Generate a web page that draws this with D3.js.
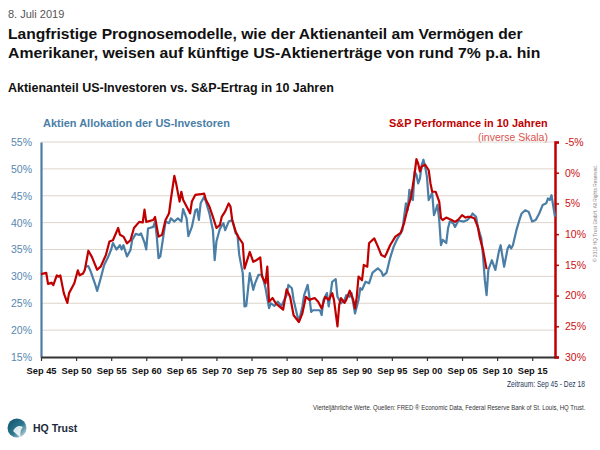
<!DOCTYPE html>
<html><head><meta charset="utf-8">
<script src="https://cdn.jsdelivr.net/npm/d3@7"></script>
<style>
html,body{margin:0;padding:0;background:#fff;}
svg{display:block;font-family:"Liberation Sans",Arial,Helvetica,sans-serif;}
</style></head>
<body>
<svg id="chart" width="600" height="450"></svg>
<script>
// ---------------- DATA ----------------
const xTickYears  = [1945.75,1950.75,1955.75,1960.75,1965.75,1970.75,1975.75,1980.75,1985.75,1990.75,1995.75,2000.75,2005.75,2010.75,2015.75];
const xTickLabels = ["Sep 45","Sep 50","Sep 55","Sep 60","Sep 65","Sep 70","Sep 75","Sep 80","Sep 85","Sep 90","Sep 95","Sep 00","Sep 05","Sep 10","Sep 15"];
const leftTicks   = [15,20,25,30,35,40,45,50,55];
const rightTicks  = [-5,0,5,10,15,20,25,30];

// S&P 10y forward return (%, inverse right scale)
const redDates = [1945.75,1946.5,1946.75,1947.25,1947.5,1948.0,1948.25,1948.5,1949.0,1949.5,1949.75,1950.5,1951.0,1951.25,1951.75,1952.0,1952.5,1953.0,1953.75,1954.25,1955.0,1955.5,1956.0,1956.75,1957.0,1957.5,1958.0,1958.5,1959.0,1959.75,1960.25,1960.5,1960.75,1961.75,1962.0,1962.5,1963.0,1963.5,1964.0,1964.25,1964.75,1965.0,1965.5,1965.75,1966.0,1966.5,1967.0,1967.25,1967.75,1968.5,1969.0,1969.25,1969.75,1970.25,1970.75,1971.25,1971.5,1972.0,1972.5,1972.75,1973.0,1973.5,1974.0,1974.5,1974.75,1975.5,1976.0,1976.5,1977.0,1977.25,1977.75,1978.0,1978.25,1978.75,1979.25,1980.25,1980.75,1981.25,1981.75,1982.5,1983.0,1983.5,1984.0,1984.75,1985.25,1985.75,1986.25,1986.75,1987.25,1987.5,1988.0,1988.25,1988.5,1989.0,1989.25,1989.75,1990.25,1990.5,1990.75,1991.0,1991.5,1991.75,1992.25,1992.5,1992.75,1993.25,1993.75,1994.25,1994.75,1995.0,1995.5,1996.25,1997.0,1997.5,1998.0,1998.5,1999.0,1999.25,1999.5,1999.75,2000.0,2000.5,2001.0,2001.25,2001.5,2002.0,2002.5,2002.75,2003.0,2003.5,2004.25,2004.75,2005.25,2005.75,2006.25,2006.5,2007.0,2007.5,2008.0,2008.25,2008.75,2009.25];
const redValues = [16.5,16.3,18.1,17.9,18.3,16.7,16.9,16.7,19.6,21.2,19.6,18.0,15.9,16.7,16.4,15.8,12.7,13.7,15.8,15.3,13.4,11.2,11.0,9.0,10.1,10.4,11.5,11.0,9.0,8.0,8.1,6.0,8.0,7.7,7.2,10.4,10.1,7.7,6.6,4.4,0.5,1.7,4.7,3.1,4.4,5.5,6.6,4.7,3.6,3.5,3.4,4.4,5.5,7.2,9.0,8.5,7.2,6.3,5.0,5.5,7.7,9.6,10.7,11.5,15.6,12.9,14.5,14.2,13.8,16.9,18.0,15.3,21.0,20.4,21.3,22.3,19.0,20.2,23.2,24.3,22.9,20.2,20.7,20.4,21.0,22.1,20.2,20.7,19.6,20.7,25.0,21.5,20.4,21.2,20.7,19.2,20.7,22.1,20.2,16.9,17.5,15.0,15.3,11.5,11.2,10.7,12.0,13.4,13.7,13.1,11.8,10.4,9.8,8.2,5.8,3.9,0.1,-2.2,-1.5,-0.2,-1.0,-1.3,-0.4,1.7,3.1,3.1,4.7,7.4,7.7,7.3,7.7,8.0,7.6,6.9,7.3,7.2,7.2,7.4,8.8,10.4,12.6,15.7];

// Equity allocation of US investors (%, left scale)
const blueDates = [1952.0,1952.5,1952.75,1953.5,1953.75,1954.25,1954.75,1955.25,1955.75,1956.0,1956.5,1957.0,1957.25,1957.5,1958.0,1958.5,1958.75,1959.25,1959.75,1960.0,1960.5,1960.75,1961.0,1961.75,1962.0,1962.25,1962.5,1962.75,1963.25,1963.5,1964.0,1964.25,1964.75,1965.25,1965.75,1966.0,1966.5,1966.75,1967.25,1967.75,1968.0,1968.25,1968.5,1969.0,1969.25,1969.75,1970.25,1970.5,1970.75,1971.25,1971.75,1972.0,1972.5,1973.0,1973.5,1973.75,1974.0,1974.5,1974.75,1975.0,1975.5,1976.0,1976.25,1976.75,1977.25,1977.75,1978.0,1978.25,1978.5,1979.0,1979.5,1980.0,1980.75,1981.0,1981.5,1981.75,1982.25,1982.5,1983.0,1983.25,1983.75,1984.0,1984.25,1984.5,1985.0,1985.5,1985.75,1986.0,1986.5,1986.75,1987.25,1987.75,1988.0,1988.5,1989.0,1989.25,1989.75,1990.0,1990.5,1991.0,1991.25,1991.5,1992.0,1992.5,1993.0,1993.75,1994.25,1994.5,1995.0,1995.5,1996.0,1996.5,1997.0,1997.25,1997.75,1998.0,1998.25,1998.5,1998.75,1999.0,1999.25,1999.5,1999.75,2000.0,2000.25,2000.5,2000.75,2001.0,2001.5,2001.75,2002.0,2002.25,2002.5,2002.75,2003.0,2003.5,2003.75,2004.0,2004.5,2004.75,2005.25,2006.0,2006.5,2007.0,2007.25,2007.75,2008.0,2008.5,2008.75,2009.0,2009.25,2009.5,2010.0,2010.5,2011.0,2011.25,2011.75,2012.25,2012.5,2012.75,2013.0,2013.5,2014.0,2014.25,2014.75,2015.25,2015.75,2016.25,2016.75,2017.25,2017.75,2018.0,2018.25,2018.5,2019.0];
const blueValues = [31.8,31.9,31.2,28.4,27.3,29.6,32.1,33.4,35.0,36.2,35.0,35.8,35.0,35.8,33.7,34.9,36.8,37.9,37.7,38.0,36.3,35.0,38.9,39.2,40.2,37.4,33.4,33.7,38.0,40.2,39.9,40.8,40.2,40.8,40.2,42.5,40.8,37.5,39.2,42.3,42.5,40.5,43.6,44.8,43.9,41.7,38.6,33.0,36.5,38.9,39.9,38.6,40.2,40.5,38.0,37.7,34.0,30.6,24.4,24.5,30.6,27.5,28.7,30.3,30.3,27.8,25.9,24.1,25.0,24.5,25.3,24.5,26.5,28.4,27.8,25.6,22.8,21.6,24.4,26.5,28.4,26.2,23.4,23.7,23.7,23.7,22.8,25.6,26.9,24.4,29.0,29.5,26.2,25.0,25.6,26.5,26.2,26.9,23.1,25.6,27.8,27.5,29.0,28.7,30.7,31.5,30.9,30.1,30.7,33.4,35.5,36.9,38.0,38.6,43.6,42.3,46.1,44.5,44.2,49.5,48.9,47.3,48.2,50.7,51.7,50.4,48.5,44.2,45.5,41.4,42.3,43.3,40.5,35.8,36.8,36.2,38.9,40.2,39.9,39.2,40.4,40.2,40.5,41.1,41.7,41.1,39.2,37.1,33.7,29.3,26.5,31.2,33.0,31.2,34.6,35.8,31.8,35.2,35.8,35.2,35.8,38.6,40.8,41.7,42.3,42.0,40.2,40.5,41.7,43.3,43.6,44.5,44.2,45.1,41.1];

// ---------------- DRAW ----------------
const svg = d3.select("#chart");
const BLUE = "#4a7ea6", RED = "#c00000";
const L = 41, R = 555, T = 142, B = 357;

const x  = d3.scaleLinear().domain([1945.75, 2019.0]).range([L, R]);
const yL = d3.scaleLinear().domain([15, 55]).range([B, T]);
const yR = d3.scaleLinear().domain([30, -5]).range([B, T]);

// text placed in a group and horizontally scaled to a target width
function label(x0, y0, str, size, width, attrs){
  const g = svg.append("g").attr("transform", `translate(${x0},${y0})`);
  const t = g.append("text").attr("x",0).attr("y",0).attr("font-size",size).text(str);
  Object.entries(attrs || {}).forEach(([k,v]) => t.attr(k,v));
  const w = t.node().getComputedTextLength();
  const s = width / w;
  g.attr("transform", `translate(${x0},${y0}) scale(${s},1)`);
  return t;
}

// Header texts
svg.append("text").attr("x",8).attr("y",18).attr("font-size",11).attr("fill","#555").text("8. Juli 2019");
label(8, 39, "Langfristige Prognosemodelle, wie der Aktienanteil am Vermögen der", 15, 515, {"font-weight":"bold", fill:"#111"});
label(8, 58, "Amerikaner, weisen auf künftige US-Aktienerträge von rund 7% p.a. hin", 15, 533, {"font-weight":"bold", fill:"#111"});
label(8, 92, "Aktienanteil US-Investoren vs. S&P-Ertrag in 10 Jahren", 12, 326, {"font-weight":"bold", fill:"#111"});

// Series labels
label(43, 127, "Aktien Allokation der US-Investoren", 11, 187, {"font-weight":"bold", fill:BLUE});
label(389, 127, "S&P Performance  in 10 Jahren", 11.5, 159, {"font-weight":"bold", fill:RED});
label(478, 140.5, "(inverse Skala)", 10.5, 70, {fill:"#d9534f"});

// Gridlines
svg.append("g").selectAll("line").data(leftTicks.filter(d => d > 15)).join("line")
  .attr("x1", L).attr("x2", R).attr("y1", d => yL(d)).attr("y2", d => yL(d))
  .attr("stroke", "#ded5cb").attr("stroke-width", 1);

// Left axis
const gL = svg.append("g").attr("transform", `translate(${L},0)`)
  .call(d3.axisLeft(yL).tickValues(leftTicks).tickFormat(d => d + "%").tickSize(0).tickPadding(9));
gL.select(".domain").attr("stroke", BLUE).attr("stroke-width", 2.2);
gL.selectAll("text").attr("font-size", 10.5).attr("fill", "#5687b0").attr("font-family", "Liberation Sans, Arial, sans-serif");

// Right axis
const gR = svg.append("g").attr("transform", `translate(${R},0)`)
  .call(d3.axisRight(yR).tickValues(rightTicks).tickFormat(d => d + "%").tickSize(4).tickPadding(6));
gR.select(".domain").attr("stroke", RED).attr("stroke-width", 2.5);
gR.selectAll(".tick line").attr("stroke", RED).attr("stroke-width", 1.5);
gR.selectAll("text").attr("font-size", 10.5).attr("fill", "#cc1111").attr("font-family", "Liberation Sans, Arial, sans-serif");

// Bottom axis
const gB = svg.append("g").attr("transform", `translate(0,${B})`)
  .call(d3.axisBottom(x).tickValues(xTickYears).tickFormat((d,i) => xTickLabels[i]).tickSize(4).tickSizeOuter(0).tickPadding(6));
gB.select(".domain").attr("stroke", "#333").attr("stroke-width", 2);
gB.selectAll(".tick line").attr("stroke", "#333").attr("stroke-width", 1.2);
gB.selectAll("text").attr("font-size", 9.3).attr("font-weight", "bold").attr("fill", "#111")
  .attr("font-family", "Liberation Sans, Arial, sans-serif");

// Lines
const blueData = blueDates.map((d,i) => [d, blueValues[i]]);
const redData  = redDates.map((d,i) => [d, redValues[i]]);
svg.append("path").datum(blueData)
  .attr("fill","none").attr("stroke",BLUE).attr("stroke-width",2.2).attr("stroke-linejoin","round")
  .attr("d", d3.line().x(d => x(d[0])).y(d => yL(d[1])));
svg.append("path").datum(redData)
  .attr("fill","none").attr("stroke",RED).attr("stroke-width",2.2).attr("stroke-linejoin","round")
  .attr("d", d3.line().x(d => x(d[0])).y(d => yR(d[1])));

// Footer
label(507, 387, "Zeitraum: Sep 45 - Dez 18", 9, 78, {fill:"#243a5a"});
label(313, 410, "Vierteljährliche Werte. Quellen: FRED ® Economic Data, Federal Reserve Bank of St. Louis, HQ Trust.", 7.5, 273, {fill:"#333"});

// copyright vertical
svg.append("text").attr("transform","translate(597,262) rotate(-90)").attr("font-size",4.8).attr("fill","#888")
  .text("© 2019 HQ Trust GmbH. All Rights Reserved.");

// Logo
const defs = svg.append("defs");
const grad = defs.append("linearGradient").attr("id","lg").attr("x1","0").attr("y1","0").attr("x2","1").attr("y2","1");
grad.append("stop").attr("offset","0%").attr("stop-color","#0c4d66");
grad.append("stop").attr("offset","55%").attr("stop-color","#2f7891");
grad.append("stop").attr("offset","100%").attr("stop-color","#dfe8ec");
svg.append("circle").attr("cx",17).attr("cy",428).attr("r",9.5).attr("fill","url(#lg)");
svg.append("path").attr("d","M13,431 Q17,424 23,427 Q19,431 21,438 Q16,434 13,431 Z").attr("fill","#fff").attr("opacity",0.85);
svg.append("text").attr("x",33).attr("y",432).attr("font-size",10.5).attr("font-weight","bold").attr("fill","#1a2a3a").text("HQ Trust");
</script>
</body></html>
